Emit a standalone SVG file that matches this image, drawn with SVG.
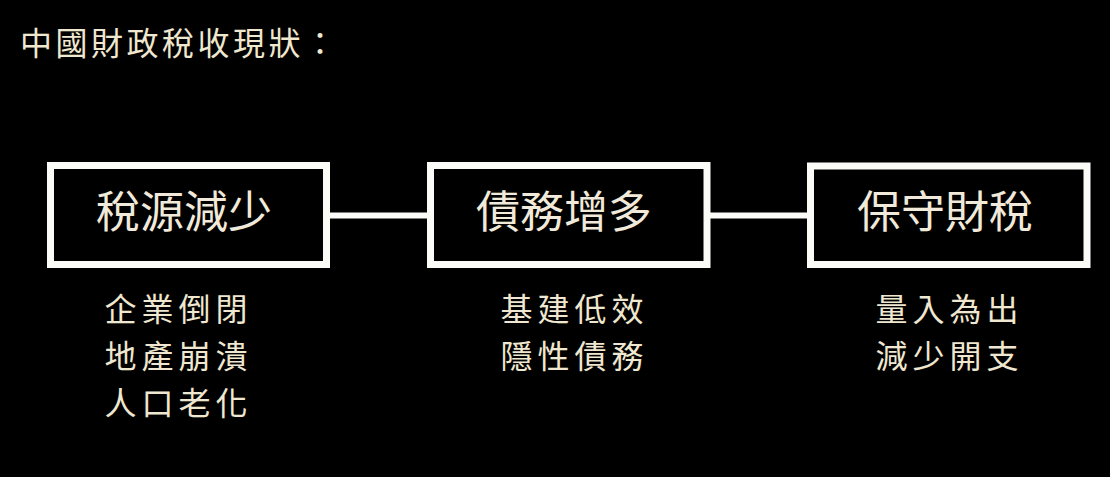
<svg xmlns="http://www.w3.org/2000/svg" width="1110" height="477" viewBox="0 0 1110 477">
<style>
.bg{fill:#000}
.box{fill:#000;stroke:#fbfbf8;stroke-width:7}
.conn{stroke:#fbfbf8;stroke-width:6;fill:none}
text{font-family:"Noto Sans CJK TC","Noto Sans CJK SC",sans-serif;fill:#efe7cf}
.title{font-size:32px;letter-spacing:3.5px}
.head{font-size:44px;text-anchor:middle;fill:#f1eada}
.sub{font-size:32px;letter-spacing:5px;text-anchor:middle}
</style>
<rect class="bg" x="0" y="0" width="1110" height="477"/>
<text class="title" x="20" y="55">中國財政稅收現狀：</text>
<g id="connectors">
<line class="conn" x1="327" y1="215.5" x2="431" y2="215.5"/>
<line class="conn" x1="707" y1="215.5" x2="811" y2="215.5"/>
</g>
<g id="node1">
<rect class="box" x="50.5" y="165.5" width="276" height="99"/>
<text class="head" x="184" y="228">稅源減少</text>
<text class="sub" x="178.5" y="321">企業倒閉</text>
<text class="sub" x="178.5" y="368">地產崩潰</text>
<text class="sub" x="178.5" y="415">人口老化</text>
</g>
<g id="node2">
<rect class="box" x="430.5" y="165.5" width="276.5" height="99"/>
<text class="head" x="564" y="228">債務增多</text>
<text class="sub" x="574.5" y="321">基建低效</text>
<text class="sub" x="574.5" y="368">隱性債務</text>
</g>
<g id="node3">
<rect class="box" x="810.5" y="166" width="276.5" height="98.5"/>
<text class="head" x="945" y="228">保守財稅</text>
<text class="sub" x="949.5" y="321">量入為出</text>
<text class="sub" x="949.5" y="368">減少開支</text>
</g>
</svg>
